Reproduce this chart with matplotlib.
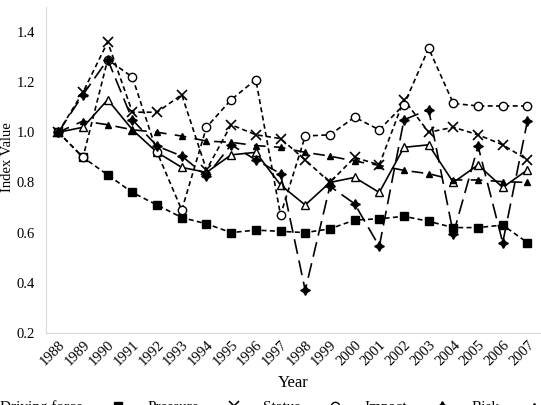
import matplotlib
matplotlib.use("Agg")
import matplotlib.pyplot as plt
import numpy as np

plt.rcParams['font.family'] = ['Liberation Serif', 'DejaVu Serif']

years = [str(y) for y in range(1988, 2008)]

driving = [1.00, 1.02, 1.13, 1.01, 0.92, 0.86, 0.84, 0.91, 0.92, 0.79,
           0.71, 0.80, 0.82, 0.76, 0.94, 0.95, 0.80, 0.87, 0.78, 0.85]
pressure = [1.00, 0.90, 0.83, 0.76, 0.71, 0.66, 0.635, 0.60, 0.61, 0.605,
            0.60, 0.615, 0.65, 0.655, 0.665, 0.645, 0.62, 0.62, 0.63, 0.56]
status = [1.00, 1.16, 1.36, 1.08, 1.08, 1.15, 0.85, 1.03, 0.99, 0.975,
          0.89, 0.80, 0.90, 0.87, 1.13, 1.00, 1.02, 0.99, 0.95, 0.89]
impact = [1.00, 0.90, 1.29, 1.22, 0.92, 0.69, 1.02, 1.13, 1.21, 0.67,
          0.985, 0.99, 1.06, 1.01, 1.11, 1.335, 1.115, 1.105, 1.105, 1.105]
risk = [1.00, 1.15, 1.29, 1.05, 0.945, 0.905, 0.825, 0.95, 0.89, 0.835,
        0.37, 0.785, 0.715, 0.545, 1.05, 1.09, 0.595, 0.945, 0.56, 1.045]
esi = [1.00, 1.045, 1.03, 1.01, 1.00, 0.985, 0.965, 0.96, 0.947, 0.94,
       0.92, 0.905, 0.885, 0.868, 0.848, 0.835, 0.81, 0.81, 0.803, 0.80]

x = np.arange(len(years))

fig = plt.figure(figsize=(5.41, 4.05), dpi=100)
ax = fig.add_axes([0.085, 0.178, 0.915, 0.805])

lw = 1.2
ax.plot(x, driving, color='black', lw=lw, ls='-', marker='^', ms=6,
        mfc='white', mec='black', label='Driving force')
ax.plot(x, pressure, color='black', lw=lw, ls=(0, (3, 2)), marker='s', ms=6,
        mfc='black', mec='black', label='Pressure')
ax.plot(x, status, color='black', lw=lw, ls=(0, (3, 2)), marker='x', ms=7,
        mew=1.2, label='Status')
ax.plot(x, impact, color='black', lw=lw, ls=(0, (3, 2)), marker='o', ms=6,
        mfc='white', mec='black', label='Impact')
ax.plot(x, risk, color='black', lw=lw, ls=(0, (9, 4)), marker=(4, 1, 0), ms=7,
        mfc='black', mec='black', label='Risk')
ax.plot(x, esi, color='black', lw=lw, ls=(0, (7, 5)), marker='^', ms=5,
        mfc='black', mec='black', label='ESI')

ax.set_xlim(-0.5, 19.55)
ax.set_ylim(0.2, 1.5)
ax.set_yticks([0.2, 0.4, 0.6, 0.8, 1.0, 1.2, 1.4])
ax.set_yticklabels(['0.2', '0.4', '0.6', '0.8', '1.0', '1.2', '1.4'])
ax.set_xticks(x)
ax.set_xticklabels(years, rotation=45, ha='right', rotation_mode='anchor')
ax.tick_params(axis='both', length=0, labelsize=10.5)
ax.tick_params(axis='y', pad=8)
ax.tick_params(axis='x', pad=4)

for s in ['top', 'right']:
    ax.spines[s].set_visible(False)
for s in ['left', 'bottom']:
    ax.spines[s].set_color('#d9d9d9')

ax.set_xlabel('Year', fontsize=12, labelpad=5)
ax.set_ylabel('Index Value', fontsize=10.5)
ax.yaxis.set_label_coords(-0.064, 0.54)

fig.legend(loc='upper center', bbox_to_anchor=(0.5, 0.045), ncol=6,
           frameon=False, fontsize=11, handlelength=2.2, columnspacing=1.2)

fig.savefig('out.png', dpi=100)
